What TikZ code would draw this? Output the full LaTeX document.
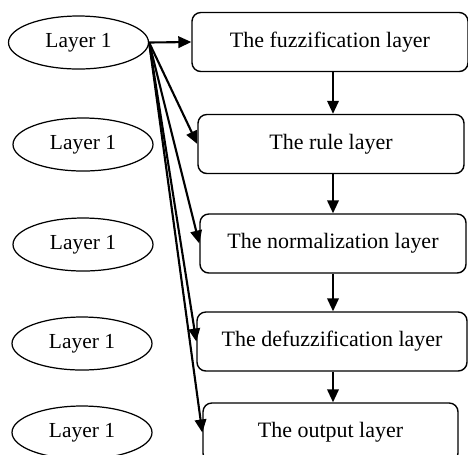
\documentclass[tikz,border=0pt]{standalone}
\usepackage{fontspec}
\setmainfont{Liberation Serif}
\usetikzlibrary{arrows.meta, positioning, shapes.geometric}

\begin{document}
\begin{tikzpicture}[
    box/.style={rectangle, draw, rounded corners=5pt, minimum height=1.18cm,
                font=\fontsize{12.5}{14}\selectfont, align=center, line width=0.8pt},
    lay/.style={ellipse, draw, minimum width=2.8cm, minimum height=1.06cm,
                inner sep=0pt, font=\fontsize{12.2}{14}\selectfont, line width=0.7pt},
    arr/.style={-{Triangle[length=2.6mm, width=2.3mm]}, line width=1.2pt},
]
\clip (0,0) rectangle (9.36,-9.08);
\node[box, minimum width=5.52cm] (fuzz) at (6.60,-0.84) {The fuzzification layer};
\node[box, minimum width=5.32cm] (rule) at (6.62,-2.88) {The rule layer};
\node[box, minimum width=5.32cm] (norm) at (6.66,-4.87) {The normalization layer};
\node[box, minimum width=5.40cm] (defz) at (6.64,-6.83) {The defuzzification layer};
\node[box, minimum width=5.10cm] (outp) at (6.61,-8.65) {The output layer};
\node[lay] (l1) at (1.57,-0.85) {Layer 1};
\node[lay] (l2) at (1.66,-2.89) {Layer 1};
\node[lay] (l3) at (1.66,-4.89) {Layer 1};
\node[lay] (l4) at (1.64,-6.87) {Layer 1};
\node[lay] (l5) at (1.64,-8.65) {Layer 1};
\draw[arr] (fuzz.south -| 6.66,0) -- (rule.north -| 6.66,0);
\draw[arr] (rule.south -| 6.66,0) -- (norm.north -| 6.66,0);
\draw[arr] (norm.south -| 6.66,0) -- (defz.north -| 6.66,0);
\draw[arr] (defz.south -| 6.66,0) -- (outp.north -| 6.66,0);
\foreach \b in {fuzz, rule, norm, defz, outp}
    \draw[arr] (l1.east) -- (\b.west);
\end{tikzpicture}
\end{document}
